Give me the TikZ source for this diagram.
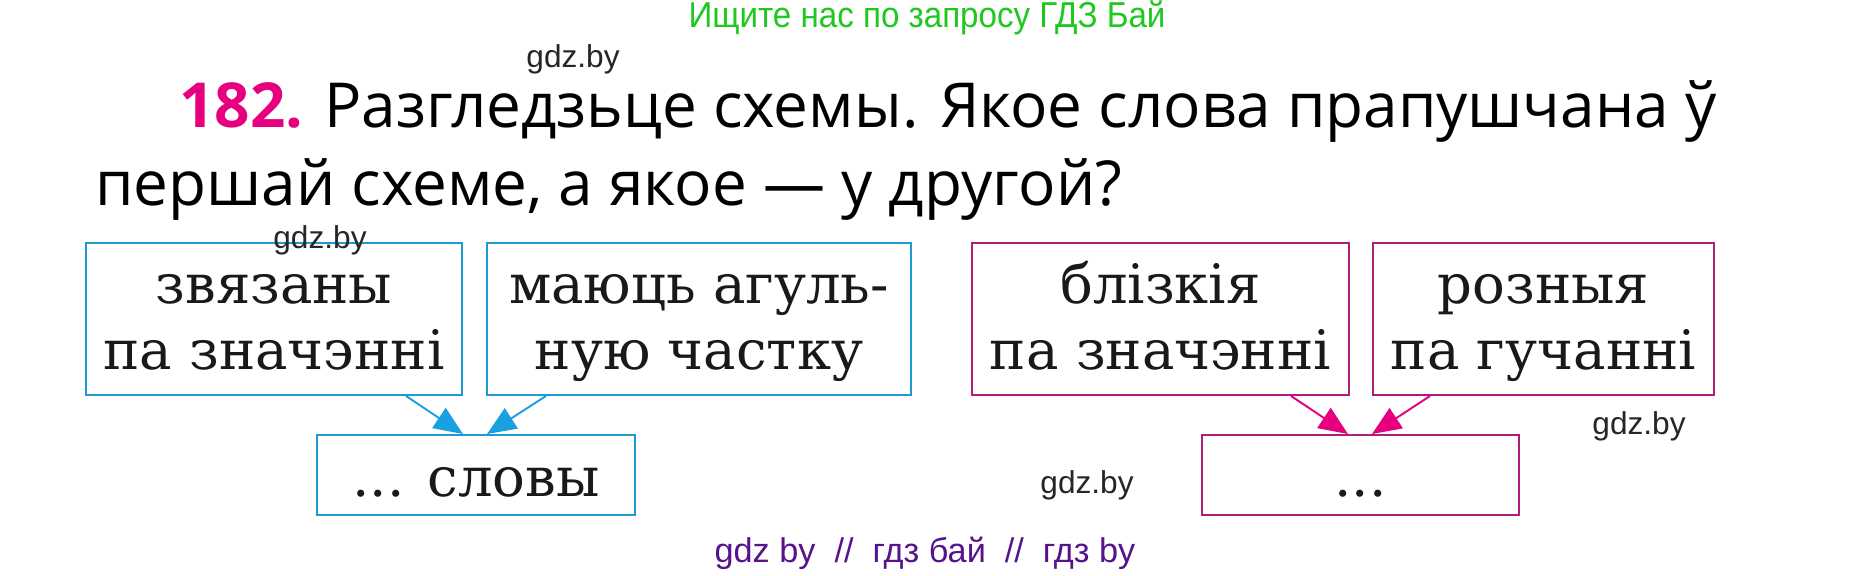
\documentclass[tikz,border=0pt]{standalone}
\usepackage{fontspec}
\setmainfont{DejaVu Serif}
\newfontfamily\headfont{Open Sans}
\newfontfamily\markfont{Liberation Sans}
\usetikzlibrary{arrows.meta}

\definecolor{boxblue}{RGB}{30,155,210}
\definecolor{arrowblue}{RGB}{25,160,225}
\definecolor{boxpink}{RGB}{175,30,120}
\definecolor{arrowpink}{RGB}{230,0,126}
\definecolor{numpink}{RGB}{230,0,126}
\definecolor{markgreen}{RGB}{30,200,30}
\definecolor{markpurple}{RGB}{85,20,140}

\begin{document}
\begin{tikzpicture}[x=0.02cm,y=-0.02cm,
  word/.style={draw,line width=1.1pt,inner sep=0pt,align=center,
    font=\fontsize{31}{38}\selectfont,text=black!90},
  blueword/.style={word,draw=boxblue},
  pinkword/.style={word,draw=boxpink},
  tall/.style={minimum height=152*0.02cm,text height=57.8pt,text depth=0pt},
  short/.style={minimum height=80*0.02cm,text height=25pt,text depth=0pt},
  link/.style={line width=1.1pt,-{Triangle[length=0.58cm,width=0.48cm]}},
  wmark/.style={font=\markfont\fontsize{18}{20}\selectfont,text=black!85}
]

% page size
\useasboundingbox (0,0) rectangle (1853,575);

% heading
\node[font=\markfont\fontsize{20.5}{22}\selectfont,text=markgreen] (seek) at (927,18)
  {\scalebox{0.92}[1]{Ищите нас по запросу ГДЗ Бай}};
\node[anchor=base west,font=\headfont\fontsize{35.3}{40}\selectfont] (task) at (173,127)
  {\textcolor{numpink}{\bfseries 182.} Разгледзьце схемы. Якое слова прапушчана ў};
\node[anchor=base west,font=\headfont\fontsize{35.3}{40}\selectfont] (task2) at (89,205)
  {першай схеме, а якое — у другой?};

% first scheme
\node[blueword,tall,minimum width=376*0.02cm] (linked) at (274,319) {звязаны\\па значэнні};
\node[blueword,tall,minimum width=424*0.02cm] (common) at (699,319) {маюць агуль-\\ную частку};
\node[blueword,short,minimum width=318*0.02cm] (words) at (476,475) {... словы};

\draw[link,arrowblue] ([xshift=-1.14cm]linked.south east) -- ([xshift=-0.26cm]words.north);
\draw[link,arrowblue] ([xshift=1.2cm]common.south west) -- ([xshift=0.22cm]words.north);

% second scheme
\node[pinkword,tall,minimum width=377*0.02cm] (close) at (1160.5,319) {блізкія\\па значэнні};
\node[pinkword,tall,minimum width=341*0.02cm] (sound) at (1543.5,319) {розныя\\па гучанні};
\node[pinkword,short,minimum width=317*0.02cm] (gap) at (1360.5,475) {...};

\draw[link,arrowpink] ([xshift=-1.18cm]close.south east) -- ([xshift=-0.25cm]gap.north);
\draw[link,arrowpink] ([xshift=1.16cm]sound.south west) -- ([xshift=0.23cm]gap.north);

% watermarks
\node[wmark] (wm1) at (573,59) {gdz.by};
\node[wmark] (wm2) at (320,240) {gdz.by};
\node[wmark] (wm3) at (1639,426) {gdz.by};
\node[wmark] (wm4) at (1087,485) {gdz.by};
\node[font=\markfont\fontsize{19.5}{22}\selectfont,text=markpurple] (foot) at (925,553)
  {gdz by \ // \ гдз бай \ // \ гдз by};

\end{tikzpicture}
\end{document}
